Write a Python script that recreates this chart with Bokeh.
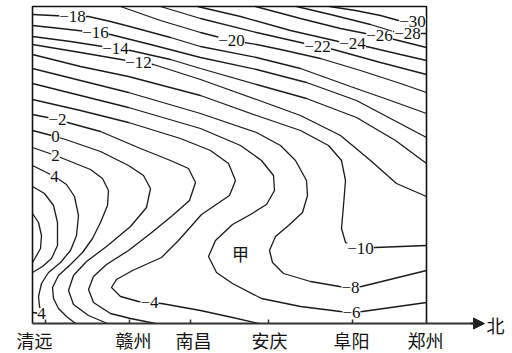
from bokeh.plotting import figure
from bokeh.models import Range1d, LabelSet, Arrow, NormalHead, ColumnDataSource
from bokeh.core.properties import value
from bokeh.embed import file_html
from bokeh.resources import INLINE

# stations along the south -> north section
stations = ["清远", "赣州", "南昌", "安庆", "阜阳", "郑州"]
station_pos = [45, 129, 190, 268, 352, 426]      # tick positions
station_label_pos = [34, 133, 193, 269, 351, 425]  # where the names are centred

# section box (distance along section, level measured from the top)
sec_left, sec_right, sec_top, sec_bottom = 32, 426, 6, 323

# isotherms (deg C): points (distance along section, level from top)
iso_m30 = [(329, 6), (355, 10), (380, 15), (398, 20), (412, 21), (426, 21)]
iso_m28 = [(296, 6), (330, 14), (370, 24), (393, 31), (407, 33), (426, 33)]
iso_m26 = [(255, 6), (300, 18), (340, 28), (365, 33), (379, 35), (394, 39), (410, 43), (426, 47)]
iso_m24 = [(197, 6), (240, 16), (290, 30), (338, 41), (352, 43), (366, 46), (400, 54), (426, 60)]
iso_m22 = [(160, 6), (200, 18), (256, 32), (300, 42), (317, 46), (333, 49), (380, 62), (426, 74)]
iso_m20 = [(120, 6), (160, 20), (200, 32), (231, 40), (256, 44), (280, 49), (320, 58), (360, 70), (400, 83), (426, 92)]
iso_m18 = [(32, 14), (72, 16), (88, 16), (110, 21), (133, 27), (170, 37), (200, 46), (256, 57), (300, 68), (350, 86), (390, 100), (426, 113)]
iso_m16 = [(32, 25), (60, 28), (95, 32), (110, 34), (150, 44), (200, 57), (256, 69), (306, 82), (356, 100), (390, 118), (426, 137)]
iso_m14 = [(32, 36), (70, 41), (115, 48), (130, 50), (170, 59), (200, 68), (256, 84), (306, 98), (356, 117), (395, 140), (426, 163)]
iso_m12 = [(32, 44), (80, 52), (138, 62), (153, 64), (200, 79), (256, 99), (300, 115), (340, 135), (370, 160), (396, 183), (426, 196)]
iso_m10 = [(32, 54), (80, 66), (128, 76), (200, 95), (256, 115), (300, 130), (328, 145), (341, 160), (345, 180),
           (343, 205), (341, 228), (345, 242), (360, 248), (375, 247), (426, 245)]
iso_m8 = [(32, 68), (80, 80), (128, 92), (200, 113), (256, 132), (280, 145), (295, 160), (306, 180), (307, 195),
          (302, 212), (288, 225), (275, 236), (269, 250), (272, 262), (283, 273), (310, 281), (339, 286),
          (350, 287), (361, 286), (426, 270)]
iso_m6 = [(32, 83), (80, 95), (128, 107), (200, 128), (240, 145), (261, 160), (273, 175), (274, 190), (266, 204),
          (250, 214), (232, 224), (215, 240), (208, 256), (216, 272), (232, 283), (261, 298), (300, 306),
          (340, 311), (351, 312), (362, 311), (426, 302)]
iso_m4 = [(32, 99), (80, 110), (128, 122), (180, 138), (210, 150), (228, 163), (235, 180), (229, 195), (201, 214),
          (178, 240), (161, 257), (132, 270), (116, 279), (111, 287), (120, 296), (138, 301), (149, 302),
          (161, 303), (200, 310), (232, 317), (258, 323)]
iso_m2 = [(32, 114), (57, 119), (67, 122), (100, 131), (140, 148), (170, 160), (188, 168), (195, 182), (189, 200),
          (172, 215), (150, 233), (128, 250), (106, 264), (93, 276), (88, 289), (93, 302), (110, 313),
          (130, 318), (155, 323)]
iso_0 = [(32, 130), (55, 136), (65, 139), (100, 151), (128, 165), (143, 175), (150, 188), (146, 207), (130, 226),
         (106, 246), (86, 261), (73, 275), (68, 290), (73, 304), (88, 315), (107, 323)]
iso_2 = [(32, 147), (55, 155), (65, 159), (90, 169), (102, 178), (108, 190), (107, 205), (100, 222), (92, 238),
         (82, 252), (70, 264), (58, 275), (52, 287), (53, 298), (58, 308), (66, 316), (75, 323)]
iso_4 = [(32, 165), (54, 176), (66, 184), (74, 196), (78, 215), (76, 235), (70, 250), (60, 262), (48, 272),
         (41, 283), (38, 296), (39, 306), (41, 313), (32, 312)]
iso_6 = [(32, 186), (44, 193), (53, 205), (57, 222), (57, 245), (51, 258), (42, 266), (32, 272)]
iso_8 = [(32, 213), (38, 222), (41, 235), (40, 248), (35, 257), (32, 262)]

iso_lines = [iso_m30, iso_m28, iso_m26, iso_m24, iso_m22, iso_m20, iso_m18, iso_m16, iso_m14, iso_m12,
             iso_m10, iso_m8, iso_m6, iso_m4, iso_m2, iso_0, iso_2, iso_4, iso_6, iso_8]

# isotherm labels
label_text = ["−18", "−16", "−14", "−12", "−20", "−22", "−24", "−26", "−28", "−30",
              "−2", "0", "2", "4", "4", "−4", "−6", "−8", "−10"]
label_x = [72, 95, 115, 138, 231, 317, 352, 379, 407, 412, 57, 55, 55, 54, 41, 149, 351, 350, 360]
label_y = [16, 32, 48, 62, 40, 46, 43, 35, 33, 21, 119, 136, 155, 176, 313, 302, 312, 287, 248]

p = figure(width=512, height=353, output_backend="svg", toolbar_location=None,
           x_range=Range1d(0, 512), y_range=Range1d(353, 0),
           x_axis_location=None, y_axis_location=None, min_border=0)
p.xgrid.visible = False
p.ygrid.visible = False
p.outline_line_color = None

# isotherms
xs = [[pt[0] for pt in ln] for ln in iso_lines]
ys = [[pt[1] for pt in ln] for ln in iso_lines]
p.multi_line(xs, ys, line_color="#1a1a1a", line_width=1.3)

# section box (left, top, right)
p.line([sec_left, sec_left, sec_right, sec_right], [sec_bottom, sec_top, sec_top, sec_bottom],
       line_color="#111111", line_width=1.6)

# horizontal axis with arrow pointing north
p.segment(x0=[sec_left], y0=[sec_bottom], x1=[476], y1=[sec_bottom], line_color="#333333", line_width=2)
p.add_layout(Arrow(x_start=470, y_start=sec_bottom, x_end=484, y_end=sec_bottom, line_width=2,
                   line_color="#333333",
                   end=NormalHead(size=11, fill_color="#222222", line_color="#222222", line_width=1)))
p.text(x=[495], y=[324], text=["北"], text_align="center", text_baseline="middle",
       text_font=value("Noto Sans CJK SC"), text_font_size="18px", text_color="#111111")

# station ticks and names
p.segment(x0=station_pos, y0=[sec_bottom] * len(station_pos), x1=station_pos,
          y1=[sec_bottom - 4] * len(station_pos), line_color="#333333", line_width=1.5)
p.text(x=station_label_pos, y=[339] * len(stations), text=stations, text_align="center",
       text_baseline="middle", text_font=value("Noto Sans CJK SC"), text_font_size="18px",
       text_color="#111111")

# isotherm value labels (white box breaks the line)
src = ColumnDataSource(dict(x=label_x, y=label_y, t=label_text))
p.add_layout(LabelSet(x="x", y="y", text="t", source=src, text_align="center", text_baseline="middle",
                      text_font=value("Liberation Serif"), text_font_size="17px", text_color="#111111",
                      background_fill_color="white"))

p.text(x=[240], y=[253], text=["甲"], text_align="center", text_baseline="middle",
       text_font=value("Noto Sans CJK SC"), text_font_size="17px", text_color="#111111")

open("out.html", "w").write(file_html(p, INLINE))
